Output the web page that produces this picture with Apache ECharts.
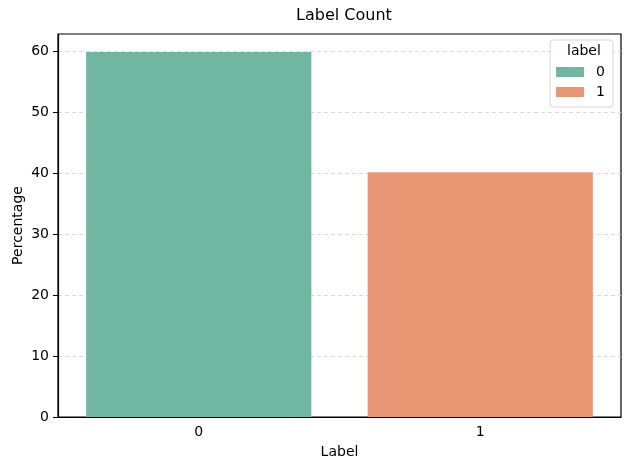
<!DOCTYPE html>
<html>
<head>
<meta charset="utf-8">
<script src="https://cdn.jsdelivr.net/npm/echarts@6/dist/echarts.min.js"></script>
<style>
  html, body { margin: 0; padding: 0; background: #fff; }
  #main { width: 630px; height: 470px; }
</style>
</head>
<body>
<div id="main"></div>
<script>
// data
var categories = ['0', '1'];
var percent0 = [59.85, '-'];
var percent1 = ['-', 40.15];
var yTicks = [0, 10, 20, 30, 40, 50, 60];

var font = 'DejaVu Sans';
var chart = echarts.init(document.getElementById('main'));

chart.setOption({
    animation: false,
    textStyle: { fontFamily: font },
    title: {
        text: 'Label Count',
        left: 339, top: 3,
        textAlign: 'center',
        textStyle: { fontFamily: font, fontSize: 16, fontWeight: 'normal', color: '#000' }
    },
    grid: {
        left: 58, right: 9, top: 34, bottom: 53,
        containLabel: false, outerBoundsMode: 'none',
        show: true, borderColor: '#000', borderWidth: 1.2, backgroundColor: 'transparent'
    },
    legend: {
        orient: 'vertical',
        right: 17, top: 40,
        padding: [25, 8, 8, 6],
        itemWidth: 28, itemHeight: 10, itemGap: 6,
        borderColor: '#d6d6d6', borderWidth: 1, borderRadius: 3,
        backgroundColor: 'rgba(255,255,255,0.8)',
        icon: 'rect',
        textStyle: { fontFamily: font, fontSize: 14, color: '#000', padding: [0, 0, 0, 7] },
        data: ['0', '1']
    },
    graphic: [{
        type: 'text',
        left: 567, top: 44, z: 100,
        style: { text: 'label', fontFamily: font, fontSize: 14, fill: '#000' }
    }],
    xAxis: {
        type: 'category',
        data: categories,
        name: 'Label',
        nameLocation: 'middle',
        nameGap: 28,
        nameMoveOverlap: false,
        nameTextStyle: { fontFamily: font, fontSize: 14, color: '#000' },
        axisLine: { lineStyle: { color: '#000', width: 1.2 } },
        axisTick: { alignWithLabel: true, length: 5, lineStyle: { color: '#000' } },
        axisLabel: { fontFamily: font, fontSize: 14, color: '#000', margin: 8 },
        splitLine: { show: false }
    },
    yAxis: {
        type: 'value',
        min: 0, max: 62.8, interval: 10,
        name: 'Percentage',
        nameLocation: 'middle',
        nameGap: 33,
        nameMoveOverlap: false,
        nameTextStyle: { fontFamily: font, fontSize: 14, color: '#000' },
        axisLine: { show: true, lineStyle: { color: '#000', width: 1.2 } },
        axisTick: { show: true, length: 5, lineStyle: { color: '#000' } },
        axisLabel: {
            fontFamily: font, fontSize: 14, color: '#000', margin: 9,
            showMaxLabel: false,
            formatter: function (v) { return yTicks.indexOf(v) >= 0 ? String(v) : ''; }
        },
        splitLine: {
            show: true, showMaxLine: false, showMinLine: false,
            lineStyle: { color: '#d9d9d9', type: [4, 3], width: 1 }
        }
    },
    series: [
        {
            name: '0', type: 'bar', data: percent0,
            barCategoryGap: '20%', barGap: '-100%',
            itemStyle: { color: '#71b6a1' }
        },
        {
            name: '1', type: 'bar', data: percent1,
            barCategoryGap: '20%', barGap: '-100%',
            itemStyle: { color: '#e99675' }
        }
    ]
});
</script>
</body>
</html>
